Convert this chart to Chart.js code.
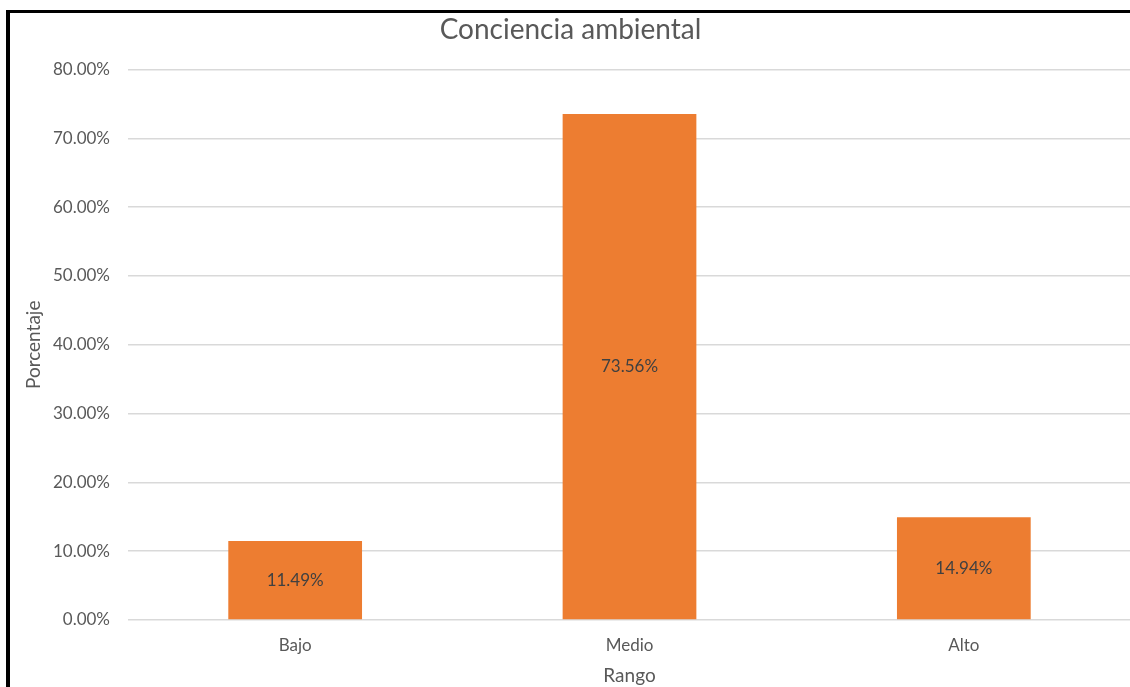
<!DOCTYPE html>
<html>
<head>
<meta charset="utf-8">
<script src="https://cdn.jsdelivr.net/npm/chart.js@4"></script>
<style>
  html, body { margin: 0; padding: 0; background: #fff; overflow: hidden; }
  #marco {
    position: absolute; left: 6px; top: 10px;
    border-left: 4px solid #000; border-top: 3px solid #000;
    width: 1126px; height: 674px;
  }
  #grafico { display: block; }
</style>
</head>
<body>
<div id="marco"><canvas id="grafico" width="1126" height="674"></canvas></div>
<script>
const categorias = ['Bajo', 'Medio', 'Alto'];
const porcentajes = [11.49, 73.56, 14.94];
const marcasY = [0, 10, 20, 30, 40, 50, 60, 70, 80];

const fuente = 'Lato, "Open Sans", sans-serif';
const gris = '#595959';

const etiquetasBarras = {
    id: 'etiquetasBarras',
    afterDatasetsDraw(chart) {
        const ctx = chart.ctx;
        const meta = chart.getDatasetMeta(0);
        ctx.save();
        ctx.font = '17px ' + fuente;
        ctx.fillStyle = '#404040';
        ctx.textAlign = 'center';
        ctx.textBaseline = 'middle';
        meta.data.forEach((barra, i) => {
            let yMedio = (barra.y + barra.base) / 2;
            ctx.fillText(porcentajes[i].toFixed(2) + '%', barra.x, yMedio);
        });
        ctx.restore();
    }
};

let ctx = document.getElementById('grafico').getContext('2d');
new Chart(ctx, {
    type: 'bar',
    data: {
        labels: categorias,
        datasets: [{
            data: porcentajes,
            backgroundColor: '#ED7D31',
            categoryPercentage: 1,
            barPercentage: 0.4
        }]
    },
    options: {
        responsive: false,
        animation: false,
        layout: { padding: { left: 0, top: 0, bottom: 0, right: 5 } },
        plugins: {
            legend: { display: false },
            tooltip: { enabled: false },
            title: {
                display: true,
                text: 'Conciencia ambiental',
                color: gris,
                font: { family: fuente, size: 28, weight: 'normal' },
                padding: { top: 0, bottom: 23 }
            }
        },
        scales: {
            x: {
                grid: { display: false, drawTicks: false },
                border: { display: false },
                ticks: { color: gris, font: { family: fuente, size: 17 }, padding: 15 },
                title: {
                    display: true, text: 'Rango', color: gris,
                    font: { family: fuente, size: 19 }, padding: { top: 0, bottom: 0 }
                },
                afterFit: (escala) => { escala.height = 67; }
            },
            y: {
                min: 0,
                max: 80,
                afterBuildTicks: (escala) => { escala.ticks = marcasY.map(v => ({ value: v })); },
                grid: { color: '#D9D9D9', lineWidth: 1.5, drawTicks: false },
                border: { display: false },
                ticks: {
                    color: gris,
                    font: { family: fuente, size: 17 },
                    padding: 18,
                    callback: (v) => v.toFixed(2) + '%'
                },
                title: {
                    display: true, text: 'Porcentaje', color: gris,
                    font: { family: fuente, size: 19 }, padding: { top: 12, bottom: 0 }
                },
                afterFit: (escala) => { escala.width = 118; }
            }
        }
    },
    plugins: [etiquetasBarras]
});
</script>
</body>
</html>
